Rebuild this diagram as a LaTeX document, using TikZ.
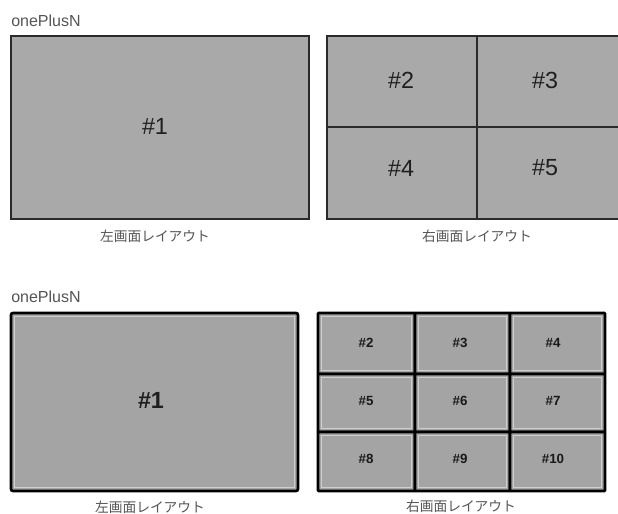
\documentclass[tikz,border=0pt]{standalone}
\usepackage{fontspec}
\setmainfont{Liberation Sans}
\newfontfamily\jpfont{Noto Sans CJK JP}
\def\pxu{0.75pt}
\definecolor{boxgray}{HTML}{A9A9A9}
\definecolor{boxgrayb}{HTML}{A4A4A4}
\definecolor{edgedark}{HTML}{2A2A2A}
\definecolor{titlegray}{HTML}{555555}
\definecolor{innerlight}{HTML}{CFCFCF}
\tikzset{
  x=0.75pt, y=-0.75pt,
  toppanel/.style={fill=boxgray, draw=edgedark, line width=1.6pt},
  botpanel/.style={fill=boxgrayb, draw=black, line width=2pt, rounded corners=1.5pt},
  innerline/.style={draw=innerlight, line width=0.8pt},
  title/.style={anchor=west, inner sep=0pt, text=titlegray, font=\fontsize{12}{14}\selectfont},
  caption/.style={inner sep=0pt, text=titlegray, font=\jpfont\fontsize{10.3}{12}\selectfont},
  biglabel/.style={inner sep=0pt, text=black!88, font=\fontsize{17.5}{20}\selectfont},
  smalllabel/.style={inner sep=0pt, text=black!90, font=\bfseries\fontsize{10}{12}\selectfont},
}
\begin{document}
\begin{tikzpicture}
\useasboundingbox (0,0) rectangle (618,514);
\clip (0,0) rectangle (618,514);
\fill[white] (0,0) rectangle (618,514);

% ---------- top panel ----------
\node[title] (t1) at (11,21) {onePlusN};
\draw[toppanel] (11,36) rectangle (309,219);
\node[biglabel] (a1) at (155,126) {\#1};
\node[caption] (cap1) at (155,236) {左画面レイアウト};

\draw[toppanel] (327,36) rectangle (625,219);
\draw[edgedark, line width=1.6pt] (477,36) -- (477,219);
\draw[edgedark, line width=1.6pt] (327,127) -- (625,127);
\node[biglabel] (a2) at (401,80) {\#2};
\node[biglabel] (a3) at (545,80) {\#3};
\node[biglabel] (a4) at (401,168) {\#4};
\node[biglabel] (a5) at (545,168) {\#5};
\node[caption] (cap2) at (477,236) {右画面レイアウト};

% ---------- bottom panel ----------
\node[title] (t2) at (11,297) {onePlusN};
\draw[botpanel] (11,313) rectangle (298,491);
\draw[innerline] (14.5,316.5) rectangle (294.5,487.5);
\node[biglabel, font=\bfseries\fontsize{17.5}{20}\selectfont] (b1) at (151,400) {\#1};
\node[caption] (cap3) at (150,507) {左画面レイアウト};

% 3x3 grid
\foreach \c/\xa/\xb in {0/318/415, 1/415/510, 2/510/605}{
  \foreach \r/\ya/\yb in {0/313/374, 1/374/432, 2/432/491}{
    \draw[botpanel, rounded corners=0.5pt] (\xa,\ya) rectangle (\xb,\yb);
    \draw[innerline] (\xa+3.5,\ya+3.5) rectangle (\xb-3.5,\yb-3.5);
  }
}
\node[smalllabel] (b2) at (366,343) {\#2};
\node[smalllabel] (b3) at (460,343) {\#3};
\node[smalllabel] (b4) at (553,343) {\#4};
\node[smalllabel] (b5) at (366,401) {\#5};
\node[smalllabel] (b6) at (460,401) {\#6};
\node[smalllabel] (b7) at (553,401) {\#7};
\node[smalllabel] (b8) at (366,459) {\#8};
\node[smalllabel] (b9) at (460,459) {\#9};
\node[smalllabel] (b10) at (553,459) {\#10};
\node[caption] (cap4) at (461,506) {右画面レイアウト};
\end{tikzpicture}
\end{document}
